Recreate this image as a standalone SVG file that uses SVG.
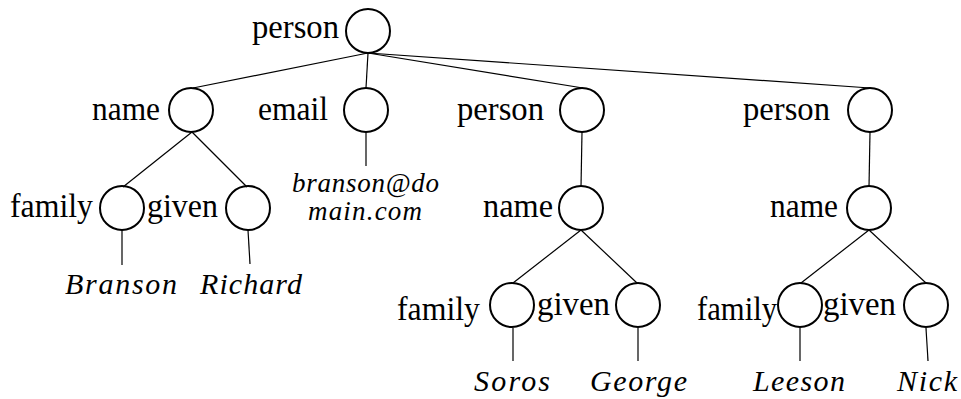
<svg xmlns="http://www.w3.org/2000/svg" width="961" height="399" viewBox="0 0 961 399">
  <style>
    .node { fill: none; stroke: #000; stroke-width: 2; }
    .edge { stroke: #000; stroke-width: 1.2; fill: none; }
    .tag { font-size: 33px; fill: #000; }
    .val { font-size: 30px; font-style: italic; fill: #000; }
    .mail { font-size: 27px; font-style: italic; fill: #000; }
  </style>
  <rect width="961" height="399" fill="#fff"/>

  <!-- connectors -->
  <g id="edges">
    <line class="edge" x1="368" y1="53" x2="193" y2="88"/>
    <line class="edge" x1="368" y1="53" x2="366" y2="88"/>
    <line class="edge" x1="368" y1="53" x2="583" y2="88"/>
    <line class="edge" x1="368" y1="53" x2="870" y2="88"/>
    <line class="edge" x1="192" y1="132" x2="123" y2="187"/>
    <line class="edge" x1="192" y1="132" x2="247" y2="187"/>
    <line class="edge" x1="366" y1="132" x2="366" y2="166"/>
    <line class="edge" x1="122" y1="230" x2="122" y2="265"/>
    <line class="edge" x1="248" y1="230" x2="250" y2="264"/>
    <line class="edge" x1="582" y1="132" x2="581" y2="187"/>
    <line class="edge" x1="581" y1="230" x2="513" y2="283"/>
    <line class="edge" x1="581" y1="230" x2="637" y2="283"/>
    <line class="edge" x1="513" y1="328" x2="513" y2="361"/>
    <line class="edge" x1="638" y1="328" x2="638" y2="361"/>
    <line class="edge" x1="870" y1="132" x2="869" y2="187"/>
    <line class="edge" x1="869" y1="230" x2="801" y2="283"/>
    <line class="edge" x1="869" y1="230" x2="926" y2="283"/>
    <line class="edge" x1="800" y1="328" x2="800" y2="361"/>
    <line class="edge" x1="926" y1="328" x2="928" y2="361"/>
  </g>

  <g font-family="Liberation Serif, serif">
  <!-- root -->
  <g id="person-root">
    <ellipse class="node" cx="368" cy="31" rx="22" ry="22"/>
    <text class="tag" x="252" y="38" textLength="87" lengthAdjust="spacingAndGlyphs">person</text>
  </g>

  <!-- first person: name / email -->
  <g id="name-1">
    <ellipse class="node" cx="191" cy="110" rx="22" ry="22"/>
    <text class="tag" x="92" y="120" textLength="68" lengthAdjust="spacingAndGlyphs">name</text>
  </g>
  <g id="family-1">
    <ellipse class="node" cx="122" cy="208" rx="22" ry="22"/>
    <text class="tag" x="10" y="217" textLength="83" lengthAdjust="spacingAndGlyphs">family</text>
    <text class="val" x="65" y="294" textLength="112" lengthAdjust="spacing">Branson</text>
  </g>
  <g id="given-1">
    <ellipse class="node" cx="248" cy="208" rx="22" ry="22"/>
    <text class="tag" x="147" y="217" textLength="71" lengthAdjust="spacingAndGlyphs">given</text>
    <text class="val" x="200" y="294" textLength="102" lengthAdjust="spacing">Richard</text>
  </g>
  <g id="email">
    <ellipse class="node" cx="366" cy="110" rx="22" ry="22"/>
    <text class="tag" x="258" y="120" textLength="70" lengthAdjust="spacingAndGlyphs">email</text>
    <text class="mail" x="292" y="192" textLength="147" lengthAdjust="spacing">branson@do</text>
    <text class="mail" x="308" y="220" textLength="114" lengthAdjust="spacing">main.com</text>
  </g>

  <!-- second person -->
  <g id="person-2">
    <ellipse class="node" cx="582" cy="110" rx="22" ry="22"/>
    <text class="tag" x="457" y="120" textLength="87" lengthAdjust="spacingAndGlyphs">person</text>
  </g>
  <g id="name-2">
    <ellipse class="node" cx="581" cy="208" rx="22" ry="22"/>
    <text class="tag" x="483" y="217" textLength="70" lengthAdjust="spacingAndGlyphs">name</text>
  </g>
  <g id="family-2">
    <ellipse class="node" cx="512" cy="305" rx="22" ry="22"/>
    <text class="tag" x="397" y="320" textLength="83" lengthAdjust="spacingAndGlyphs">family</text>
    <text class="val" x="474" y="391" textLength="76" lengthAdjust="spacing">Soros</text>
  </g>
  <g id="given-2">
    <ellipse class="node" cx="638" cy="305" rx="22" ry="22"/>
    <text class="tag" x="537" y="315" textLength="73" lengthAdjust="spacingAndGlyphs">given</text>
    <text class="val" x="590" y="391" textLength="97" lengthAdjust="spacing">George</text>
  </g>

  <!-- third person -->
  <g id="person-3">
    <ellipse class="node" cx="870" cy="110" rx="22" ry="22"/>
    <text class="tag" x="743" y="120" textLength="87" lengthAdjust="spacingAndGlyphs">person</text>
  </g>
  <g id="name-3">
    <ellipse class="node" cx="869" cy="208" rx="22" ry="22"/>
    <text class="tag" x="770" y="217" textLength="68" lengthAdjust="spacingAndGlyphs">name</text>
  </g>
  <g id="family-3">
    <ellipse class="node" cx="800" cy="305" rx="22" ry="22"/>
    <text class="tag" x="697" y="320" textLength="80" lengthAdjust="spacingAndGlyphs">family</text>
    <text class="val" x="753" y="391" textLength="92" lengthAdjust="spacing">Leeson</text>
  </g>
  <g id="given-3">
    <ellipse class="node" cx="926" cy="305" rx="22" ry="22"/>
    <text class="tag" x="823" y="315" textLength="73" lengthAdjust="spacingAndGlyphs">given</text>
    <text class="val" x="897" y="391" textLength="60" lengthAdjust="spacing">Nick</text>
  </g>
  </g>
</svg>
